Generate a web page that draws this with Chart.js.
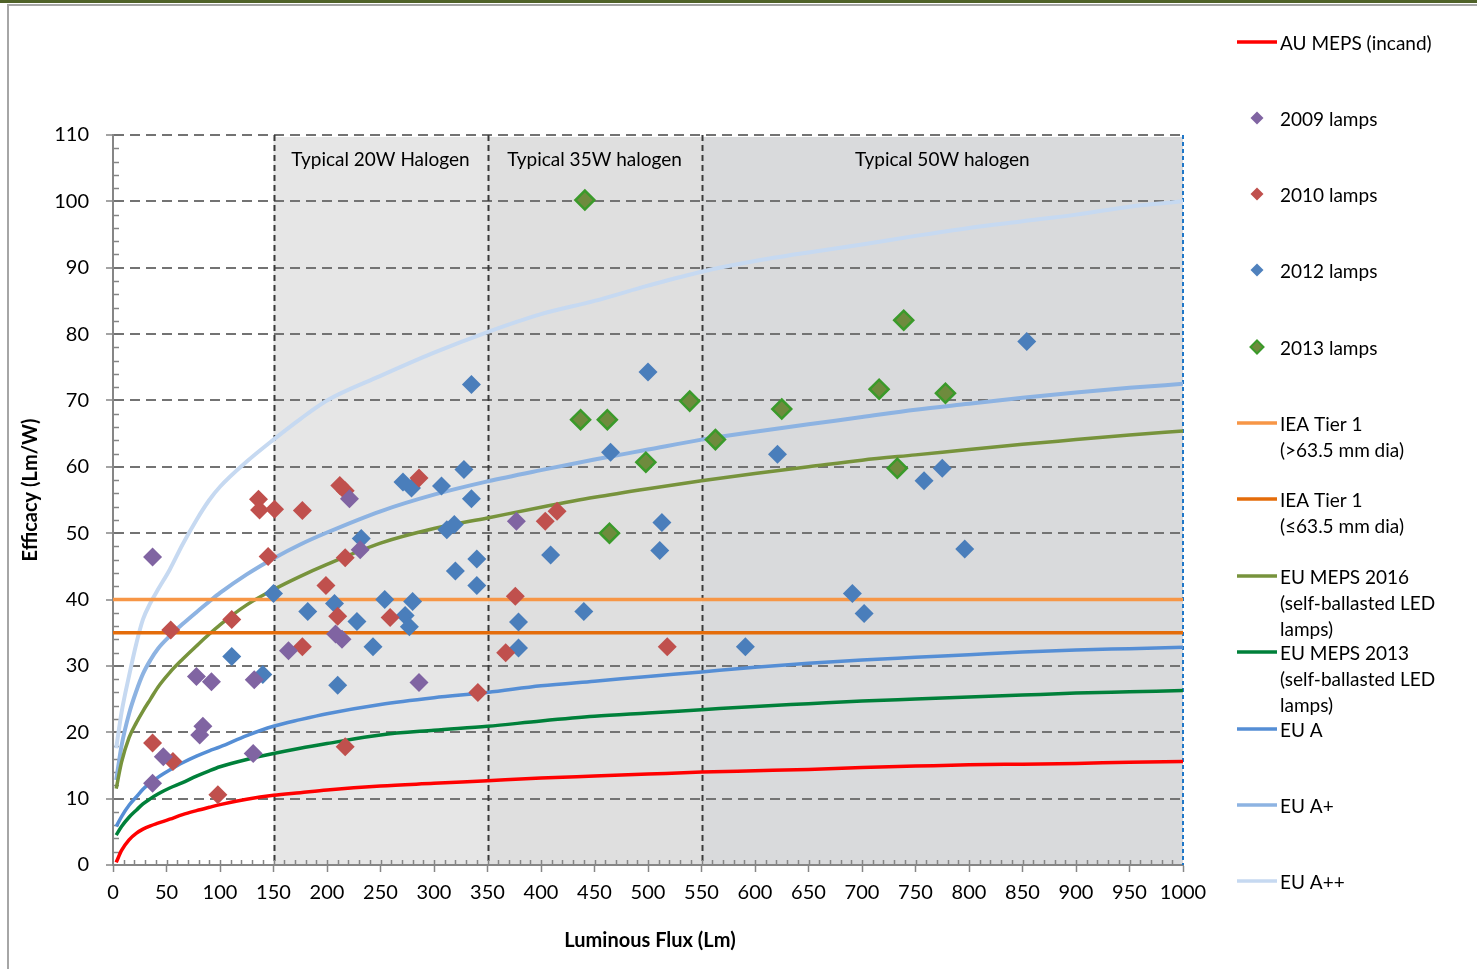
<!DOCTYPE html>
<html>
<head>
<meta charset="utf-8">
<script src="https://cdn.jsdelivr.net/npm/chart.js@4.4.1/dist/chart.umd.min.js"></script>
<style>
  html, body { margin: 0; padding: 0; background: #fff; }
  canvas { display: block; }
</style>
</head>
<body>
<canvas id="chart" width="1477" height="969"></canvas>
<script>
// reference curves
const curveX = [3, 8, 15, 22, 28, 35, 42, 53, 65, 78, 90, 100, 125, 150, 175, 200, 250, 300, 350, 400, 450, 500, 550, 600, 650, 700, 750, 800, 850, 900, 950, 1000];
const auMeps = [0.4, 2.2, 3.8, 4.8, 5.4, 5.9, 6.3, 6.9, 7.6, 8.2, 8.7, 9.1, 9.9, 10.5, 10.9, 11.3,
    11.9, 12.3, 12.7, 13.1, 13.4, 13.7, 14.0, 14.2, 14.4, 14.7, 14.9, 15.1, 15.2, 15.3, 15.5, 15.6];
const euMeps2016 = [11.5, 15.5, 19.2, 21.5, 23.2, 25.0, 26.8, 29.0, 31.0, 33.0, 34.8, 36.2, 39.2, 41.5, 43.5, 45.3,
    48.5, 50.7, 52.3, 53.9, 55.4, 56.7, 57.9, 59.0, 60.0, 61.0, 61.8, 62.6, 63.4, 64.1, 64.8, 65.4];
const euMeps2013 = [4.5, 5.8, 7.2, 8.3, 9.2, 10.0, 10.7, 11.6, 12.4, 13.4, 14.2, 14.8, 15.9, 16.8, 17.6, 18.3,
    19.6, 20.3, 20.9, 21.7, 22.4, 22.9, 23.4, 23.9, 24.3, 24.7, 25.0, 25.3, 25.6, 25.9, 26.1, 26.3];
const euA = [5.8, 7.3, 9.0, 10.3, 11.4, 12.4, 13.2, 14.3, 15.4, 16.4, 17.2, 17.8, 19.5, 20.9, 21.9, 22.8,
    24.2, 25.2, 26.0, 27.0, 27.7, 28.4, 29.1, 29.8, 30.4, 30.9, 31.3, 31.7, 32.1, 32.4, 32.6, 32.8];
const euAPlus = [12.8, 18.0, 22.8, 26.3, 28.8, 30.9, 32.6, 34.5, 36.3, 38.1, 39.7, 41.0, 43.8, 46.2, 48.3, 50.1,
    53.3, 55.8, 57.8, 59.5, 61.1, 62.6, 64.1, 65.3, 66.4, 67.5, 68.6, 69.5, 70.4, 71.2, 71.9, 72.5];
const euAPlusPlus = [17.6, 23.0, 28.5, 33.5, 37.0, 39.5, 41.5, 44.5, 48.3, 52.0, 55.0, 57.0, 60.8, 64.1, 67.2, 70.0,
    73.7, 77.2, 80.3, 83.0, 85.0, 87.3, 89.4, 91.0, 92.3, 93.5, 94.8, 96.0, 97.0, 98.0, 99.2, 100.0];

// IEA thresholds (flat lines across the range)
const ieaX = [0, 1000];
const ieaLarge = [40, 40];
const ieaSmall = [35, 35];

// measured lamps
const lamps2009X = [37, 37, 47, 78, 92, 84, 81, 131, 132, 164, 221, 231, 208, 214, 286, 377];
const lamps2009Y = [46.4, 12.3, 16.3, 28.4, 27.6, 20.9, 19.6, 16.8, 27.9, 32.3, 55.2, 47.5, 34.8, 34.0, 27.5, 51.8];
const lamps2010X = [37, 54, 56, 98, 111, 136, 137, 151, 145, 177, 177, 212, 217, 217, 199, 210, 259, 286, 217, 341, 376, 367, 404, 415, 518];
const lamps2010Y = [18.4, 35.4, 15.6, 10.6, 37.0, 55.1, 53.5, 53.6, 46.5, 53.4, 32.9, 57.2, 56.4, 46.3, 42.1, 37.5, 37.3, 58.3, 17.8, 26.0, 40.5, 32.0, 51.8, 53.3, 32.9];
const lamps2012X = [111, 140, 150, 182, 207, 210, 228, 232, 243, 254, 271, 279, 273, 277, 280, 307, 312, 319, 320, 328, 335, 335, 340, 340, 379, 379, 409, 440, 465, 500, 513, 511, 591, 621, 691, 702, 758, 775, 796, 854];
const lamps2012Y = [31.4, 28.7, 40.9, 38.2, 39.4, 27.1, 36.7, 49.2, 32.9, 40.0, 57.7, 56.8, 37.6, 35.9, 39.7, 57.1, 50.5, 51.3, 44.3, 59.6, 72.4, 55.2, 46.1, 42.1, 36.6, 32.7, 46.7, 38.2, 62.2, 74.3, 51.6, 47.4, 32.9, 61.9, 40.9, 37.9, 57.9, 59.8, 47.6, 78.9];
const lamps2013X = [441, 437, 462, 464, 498, 539, 563, 625, 716, 733, 739, 778];
const lamps2013Y = [100.2, 67.1, 67.1, 50.0, 60.7, 69.9, 64.1, 68.7, 71.7, 59.8, 82.1, 71.1];

// shaded halogen bands
const bandFrom = [150, 350, 550];
const bandTo = [350, 550, 1000];
const bandLabels = ['Typical 20W Halogen', 'Typical 35W halogen', 'Typical 50W halogen'];
const bandColors = ['#e6e6e6', '#dfdfdf', '#d9dadc'];

const xTicks = [0, 50, 100, 150, 200, 250, 300, 350, 400, 450, 500, 550, 600, 650, 700, 750, 800, 850, 900, 950, 1000];

function pts(xs, ys) {
    return xs.map((x, i) => ({ x: x, y: ys[i] }));
}

function lineSet(label, xs, ys, color, width) {
    return {
        label: label,
        data: pts(xs, ys),
        showLine: true,
        borderColor: color,
        backgroundColor: color,
        borderWidth: width,
        pointRadius: 0,
        pointHoverRadius: 0,
        cubicInterpolationMode: 'monotone',
        fill: false,
        order: 2
    };
}

function markerSet(label, xs, ys, fill, border, bw) {
    return {
        label: label,
        data: pts(xs, ys),
        showLine: false,
        pointStyle: 'rectRot',
        pointRadius: 9.5,
        pointHoverRadius: 9.5,
        backgroundColor: fill,
        borderColor: border,
        borderWidth: bw,
        order: 0
    };
}

const legendItems = [
    { kind: 'line', color: '#ff0000', y: 42, text: ['AU MEPS (incand)'] },
    { kind: 'mark', color: '#8064a2', y: 118, text: ['2009 lamps'] },
    { kind: 'mark', color: '#c0504d', y: 194, text: ['2010 lamps'] },
    { kind: 'mark', color: '#4f81bd', y: 270, text: ['2012 lamps'] },
    { kind: 'mark', color: '#6e8b3d', border: '#3a9a2a', y: 347, text: ['2013 lamps'] },
    { kind: 'line', color: '#f79646', y: 423, text: ['IEA Tier 1', '(>63.5 mm dia)'] },
    { kind: 'line', color: '#e46c0a', y: 499, text: ['IEA Tier 1', '(\u226463.5 mm dia)'] },
    { kind: 'line', color: '#77933c', y: 576, text: ['EU MEPS 2016', '(self-ballasted LED', 'lamps)'] },
    { kind: 'line', color: '#00803a', y: 652, text: ['EU MEPS 2013', '(self-ballasted LED', 'lamps)'] },
    { kind: 'line', color: '#558ed5', y: 729, text: ['EU A'] },
    { kind: 'line', color: '#8db3e2', y: 805, text: ['EU A+'] },
    { kind: 'line', color: '#c6d9f1', y: 881, text: ['EU A++'] }
];

const FONT = 'Lato, "Open Sans", sans-serif';

const decor = {
    id: 'decor',
    beforeDraw(chart) {
        const { ctx, chartArea: a, scales: { x } } = chart;
        ctx.save();
        ctx.fillStyle = '#fff';
        ctx.fillRect(0, 0, chart.width, chart.height);
        ctx.fillStyle = '#4f6228';
        ctx.fillRect(0, 0, chart.width, 3);
        ctx.strokeStyle = '#a6a6a6';
        ctx.lineWidth = 2;
        ctx.beginPath();
        ctx.moveTo(8, chart.height);
        ctx.lineTo(8, 5);
        ctx.lineTo(chart.width, 5);
        ctx.stroke();
        for (let i = 0; i < bandFrom.length; i++) {
            const x0 = x.getPixelForValue(bandFrom[i]);
            const x1 = x.getPixelForValue(bandTo[i]);
            ctx.fillStyle = bandColors[i];
            ctx.fillRect(x0, a.top + 2, x1 - x0, a.bottom - a.top - 2);
        }
        ctx.restore();
    },
    beforeDatasetsDraw(chart) {
        const { ctx, chartArea: a, scales: { x, y } } = chart;
        ctx.save();
        // band edges
        ctx.strokeStyle = '#3a3a3a';
        ctx.lineWidth = 2;
        ctx.setLineDash([6, 4]);
        [150, 350, 550].forEach(v => {
            const px = Math.round(x.getPixelForValue(v)) + 0.5;
            ctx.beginPath();
            ctx.moveTo(px, a.top);
            ctx.lineTo(px, a.bottom);
            ctx.stroke();
        });
        ctx.strokeStyle = '#1f77c8';
        ctx.setLineDash([4, 3]);
        const pr = x.getPixelForValue(1000);
        ctx.beginPath();
        ctx.moveTo(pr, a.top);
        ctx.lineTo(pr, a.bottom);
        ctx.stroke();
        ctx.setLineDash([]);
        // minor ticks
        ctx.strokeStyle = '#868686';
        ctx.lineWidth = 1.5;
        for (let v = 2; v < 110; v += 2) {
            if (v % 10 === 0) continue;
            const py = Math.round(y.getPixelForValue(v)) + 0.5;
            ctx.beginPath();
            ctx.moveTo(a.left, py);
            ctx.lineTo(a.left + 6, py);
            ctx.stroke();
        }
        for (let v = 10; v < 1000; v += 10) {
            const px = Math.round(x.getPixelForValue(v)) + 0.5;
            ctx.beginPath();
            ctx.moveTo(px, a.bottom);
            ctx.lineTo(px, a.bottom - 5);
            ctx.stroke();
        }
        // band labels
        ctx.fillStyle = '#000';
        ctx.font = '19px ' + FONT;
        ctx.textAlign = 'center';
        ctx.textBaseline = 'middle';
        for (let i = 0; i < bandLabels.length; i++) {
            const cx = (x.getPixelForValue(bandFrom[i]) + x.getPixelForValue(bandTo[i])) / 2;
            ctx.fillText(bandLabels[i], cx, 160);
        }
        ctx.restore();
    },
    afterDraw(chart) {
        const { ctx } = chart;
        ctx.save();
        ctx.fillStyle = '#000';
        ctx.font = 'bold 20px ' + FONT;
        ctx.textAlign = 'center';
        ctx.textBaseline = 'middle';
        ctx.fillText('Luminous Flux (Lm)', 650, 941);
        ctx.translate(31, 490);
        ctx.rotate(-Math.PI / 2);
        ctx.fillText('Efficacy (Lm/W)', 0, 0);
        ctx.restore();

        // legend
        ctx.save();
        ctx.font = '19px ' + FONT;
        ctx.textAlign = 'left';
        ctx.textBaseline = 'middle';
        legendItems.forEach(it => {
            if (it.kind === 'line') {
                ctx.strokeStyle = it.color;
                ctx.lineWidth = 3.5;
                ctx.beginPath();
                ctx.moveTo(1237, it.y);
                ctx.lineTo(1277, it.y);
                ctx.stroke();
            } else {
                const cx = 1257, cy = it.y, r = 6.5;
                ctx.beginPath();
                ctx.moveTo(cx, cy - r);
                ctx.lineTo(cx + r, cy);
                ctx.lineTo(cx, cy + r);
                ctx.lineTo(cx - r, cy);
                ctx.closePath();
                ctx.fillStyle = it.color;
                ctx.fill();
                if (it.border) {
                    ctx.strokeStyle = it.border;
                    ctx.lineWidth = 2;
                    ctx.stroke();
                }
            }
            ctx.fillStyle = '#000';
            it.text.forEach((t, k) => ctx.fillText(t, 1280, it.y + 2 + k * 26));
        });
        ctx.restore();
    }
};

Chart.defaults.font.family = FONT;
Chart.defaults.font.size = 19;
Chart.defaults.color = '#000';

new Chart(document.getElementById('chart').getContext('2d'), {
    type: 'scatter',
    data: {
        datasets: [
            markerSet('2009 lamps', lamps2009X, lamps2009Y, '#8064a2', '#8064a2', 0),
            markerSet('2010 lamps', lamps2010X, lamps2010Y, '#c0504d', '#c0504d', 0),
            markerSet('2012 lamps', lamps2012X, lamps2012Y, '#4a7ebb', '#4a7ebb', 0),
            markerSet('2013 lamps', lamps2013X, lamps2013Y, '#6e8b3d', '#3a9a2a', 2.5),
            lineSet('AU MEPS (incand)', curveX, auMeps, '#ff0000', 3.5),
            lineSet('IEA Tier 1 (>63.5 mm dia)', ieaX, ieaLarge, '#f79646', 3.5),
            lineSet('IEA Tier 1 (\u226463.5 mm dia)', ieaX, ieaSmall, '#e46c0a', 3.5),
            lineSet('EU MEPS 2016 (self-ballasted LED lamps)', curveX, euMeps2016, '#77933c', 3.5),
            lineSet('EU MEPS 2013 (self-ballasted LED lamps)', curveX, euMeps2013, '#00803a', 3.5),
            lineSet('EU A', curveX, euA, '#558ed5', 3.5),
            lineSet('EU A+', curveX, euAPlus, '#8db3e2', 4),
            lineSet('EU A++', curveX, euAPlusPlus, '#c6d9f1', 4)
        ]
    },
    options: {
        responsive: false,
        animation: false,
        layout: { padding: { top: 135, right: 294, left: 0, bottom: 0 } },
        plugins: {
            legend: { display: false },
            tooltip: { enabled: false }
        },
        scales: {
            x: {
                type: 'linear',
                min: 0,
                max: 1000,
                afterFit: s => { s.height = 104; },
                afterBuildTicks: s => { s.ticks = xTicks.map(v => ({ value: v })); },
                ticks: { autoSkip: false, maxRotation: 0, padding: 9, font: { size: 20 }, callback: v => String(v) },
                grid: { drawOnChartArea: false, tickLength: 7, tickColor: '#868686', tickWidth: 1.5, color: '#868686' },
                border: { display: true, color: '#868686', width: 2 }
            },
            y: {
                min: 0,
                max: 110,
                afterFit: s => { s.width = 113; },
                ticks: { stepSize: 10, padding: 17, font: { size: 20 }, callback: v => String(v) },
                grid: {
                    color: c => (c.tick && c.tick.value === 0) ? 'rgba(0,0,0,0)' : '#737373',
                    lineWidth: 2,
                    tickLength: 7,
                    tickColor: '#868686',
                    tickWidth: 1.5,
                    tickBorderDash: []
                },
                border: { display: true, color: '#868686', width: 2, dash: [10, 6] }
            }
        }
    },
    plugins: [decor]
});
</script>
</body>
</html>
